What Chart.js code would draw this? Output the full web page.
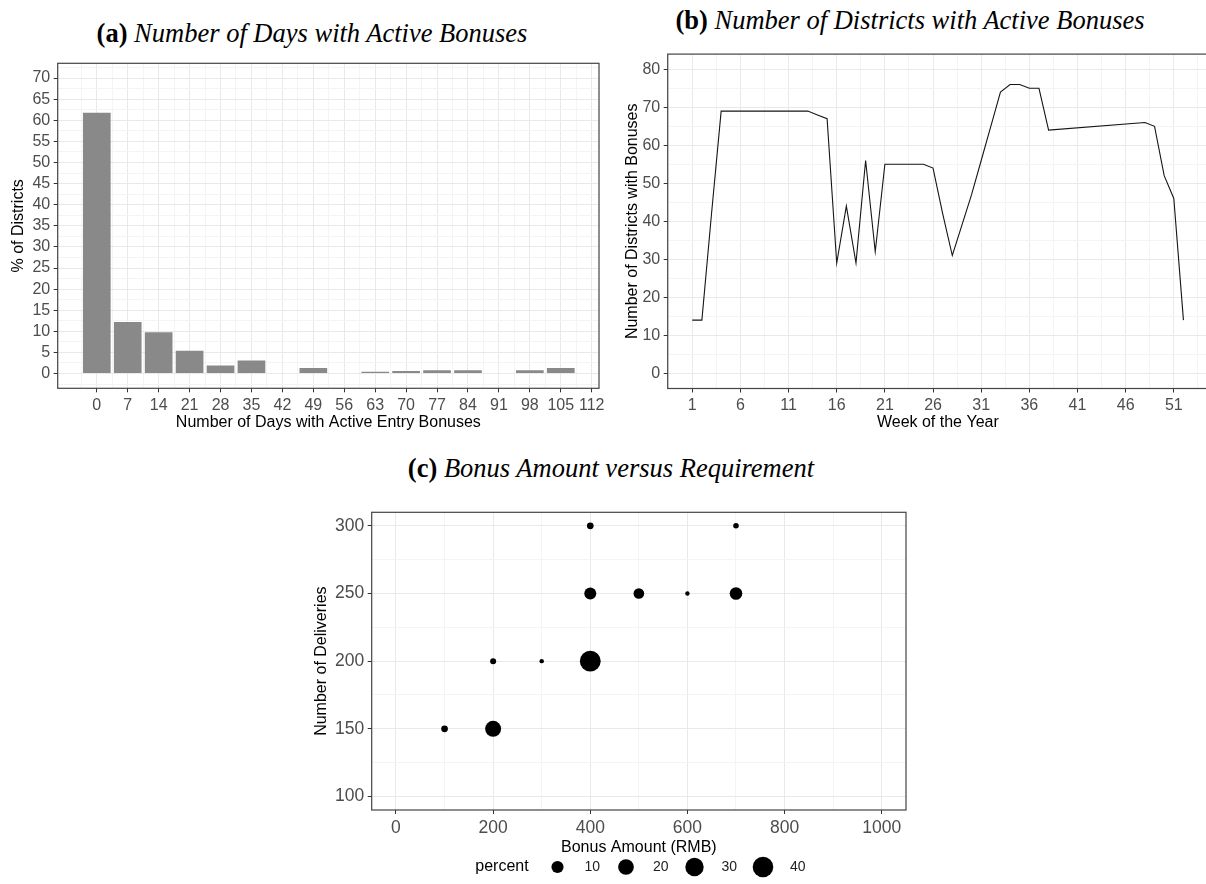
<!DOCTYPE html>
<html>
<head>
<meta charset="utf-8">
<script src="https://cdn.jsdelivr.net/npm/chart.js@4.4.1/dist/chart.umd.min.js"></script>
<style>
  html, body { margin: 0; padding: 0; background: #fff; width: 1206px; height: 884px; overflow: hidden; }
  canvas.panel { position: absolute; }
  .ttl { position: absolute; font-family: "Liberation Serif", serif; font-size: 26.5px; color: #000;
         white-space: nowrap; transform: translate(-50%, -50%); }
  .ttl b { font-weight: bold; font-style: normal; }
  .ttl i { font-style: italic; }
</style>
</head>
<body>
<div class="ttl" style="left:312px; top:33px;"><b>(a)</b> <i>Number of Days with Active Bonuses</i></div>
<div class="ttl" style="left:910px; top:20px;"><b>(b)</b> <i>Number of Districts with Active Bonuses</i></div>
<div class="ttl" style="left:611px; top:468px;"><b>(c)</b> <i>Bonus Amount versus Requirement</i></div>

<canvas id="chartDays" class="panel" width="610" height="400" style="left:0px; top:40px;"></canvas>
<canvas id="chartWeeks" class="panel" width="610" height="410" style="left:600px; top:30px;"></canvas>
<canvas id="chartBonus" class="panel" width="620" height="404" style="left:300px; top:480px;"></canvas>

<script>
// ---- (a) share of districts by number of days with an active entry bonus ----
const dayBins = [0, 7, 14, 21, 28, 35, 42, 49, 56, 63, 70, 77, 84, 91, 98, 105];
const pctDistricts = [61.8, 12.2, 9.8, 5.4, 1.9, 3.1, 0, 1.3, 0, 0.4, 0.6, 0.8, 0.8, 0, 0.8, 1.3];
const dayTicks = [0, 7, 14, 21, 28, 35, 42, 49, 56, 63, 70, 77, 84, 91, 98, 105, 112];
const pctTicks = [0, 5, 10, 15, 20, 25, 30, 35, 40, 45, 50, 55, 60, 65, 70];

// ---- (b) number of districts with bonuses, by week ----
const weeks = [1, 2, 3, 4, 5, 6, 7, 8, 9, 10, 11, 12, 13, 14, 15, 16, 17, 18, 19, 20,
               21, 22, 23, 24, 25, 26, 27, 28, 29, 30, 31, 32, 33, 34, 35, 36, 37, 38,
               48, 49, 50, 51, 52];
const districtsActive = [14, 14, 42, 69, 69, 69, 69, 69, 69, 69, 69, 69, 69, 68, 67, 29, 44, 29, 56, 32,
                         55, 55, 55, 55, 55, 54, 42, 31, 39, 47, 56, 65, 74, 76, 76, 75, 75, 64,
                         66, 65, 52, 46, 14];
const weekTicks = [1, 6, 11, 16, 21, 26, 31, 36, 41, 46, 51];
const districtTicks = [0, 10, 20, 30, 40, 50, 60, 70, 80];

// ---- (c) bonus amount vs delivery requirement, sized by share ----
const bonusRMB   = [100, 200, 200, 300, 400, 400, 400, 500, 600, 700, 700];
const deliveries = [150, 150, 200, 200, 200, 250, 300, 250, 250, 250, 300];
const sharePct   = [1.8, 21, 1.4, 1.0, 41, 9.5, 1.8, 6.8, 1.0, 11, 1.2];
const bonusTicks = [0, 200, 400, 600, 800, 1000];
const deliveryTicks = [100, 150, 200, 250, 300];
const legendPct = [10, 20, 30, 40];

// ---- shared styling ----
const FONT = "'Liberation Sans', Arial, sans-serif";
const GRID_MAJOR = '#E9E9E9';
const GRID_MINOR = '#F4F4F4';
const TICK_TEXT = '#4D4D4D';
const FRAME = '#444444';

function midpoints(majors, min, max) {
  const step = majors[1] - majors[0];
  const out = [];
  for (let v = majors[0] - step / 2; v <= majors[majors.length - 1] + step / 2 + 1e-9; v += step) {
    if (v >= min && v <= max) out.push(v);
  }
  return out;
}

function axis({ min, max, majors, title, fixed, horizontal, titlePad, tickSize = 16 }) {
  const minors = midpoints(majors, min, max);
  const isMajor = v => majors.some(m => Math.abs(m - v) < 1e-6);
  return {
    type: 'linear', min, max, offset: false,
    afterBuildTicks: ax => {
      ax.ticks = majors.concat(minors).sort((a, b) => a - b).map(v => ({ value: v }));
    },
    afterFit: ax => { if (horizontal) ax.height = fixed; else ax.width = fixed; },
    ticks: {
      autoSkip: false, maxRotation: 0, minRotation: 0, padding: 3.5,
      color: TICK_TEXT, font: { family: FONT, size: tickSize },
      callback: v => (isMajor(v) ? String(v) : '')
    },
    grid: {
      offset: false,
      color: c => (c.tick && isMajor(c.tick.value) ? GRID_MAJOR : GRID_MINOR),
      lineWidth: 1,
      drawTicks: true, tickLength: 4, tickWidth: 1,
      tickColor: c => (c.tick && isMajor(c.tick.value) ? '#333333' : 'rgba(0,0,0,0)')
    },
    border: { display: false },
    title: {
      display: true, text: title, color: '#000',
      font: { family: FONT, size: 16 }, padding: titlePad
    }
  };
}

// panel frame drawn on top, as a closed box round the plotting area
const panelFrame = {
  id: 'panelFrame',
  afterDraw(chart) {
    const { ctx, chartArea: a } = chart;
    ctx.save();
    ctx.strokeStyle = FRAME;
    ctx.lineWidth = 1.2;
    ctx.strokeRect(a.left, a.top, a.right - a.left, a.bottom - a.top);
    ctx.restore();
  }
};

const baseOptions = {
  responsive: false,
  animation: false,
  devicePixelRatio: 1,
  plugins: { legend: { display: false }, tooltip: { enabled: false } }
};

// ---- (a) ----
// the bar ruler also sees the half-step grid ticks, so the bar fraction is
// given relative to that half step (0.895 of a 7-day bin)
new Chart(document.getElementById('chartDays'), {
  type: 'bar',
  data: {
    datasets: [{
      data: dayBins.map((d, i) => ({ x: d, y: pctDistricts[i] })),
      backgroundColor: '#898989',
      borderWidth: 0,
      barPercentage: 1.79,
      categoryPercentage: 1.0
    }]
  },
  options: Object.assign({}, baseOptions, {
    layout: { padding: { left: 0, top: 23.3, right: 11, bottom: 0 } },
    scales: {
      x: axis({ min: -8.85, max: 113.65, majors: dayTicks, horizontal: true, fixed: 51.7,
                title: 'Number of Days with Active Entry Bonuses', titlePad: { top: 0, bottom: 8 } }),
      y: axis({ min: -3.5, max: 73.5, majors: pctTicks, horizontal: false, fixed: 57.7,
                title: '% of Districts', titlePad: { top: 8.5, bottom: 0 } })
    }
  }),
  plugins: [panelFrame]
});

// ---- (b) ----
new Chart(document.getElementById('chartWeeks'), {
  type: 'line',
  data: {
    datasets: [{
      data: weeks.map((w, i) => ({ x: w, y: districtsActive[i] })),
      borderColor: '#151515',
      borderWidth: 1.1,
      pointRadius: 0,
      tension: 0,
      fill: false
    }]
  },
  options: Object.assign({}, baseOptions, {
    layout: { padding: { left: 0, top: 24.1, right: 2, bottom: 0 } },
    scales: {
      x: axis({ min: -1.55, max: 54.55, majors: weekTicks, horizontal: true, fixed: 51.5,
                title: 'Week of the Year', titlePad: { top: 0, bottom: 8 } }),
      y: axis({ min: -4, max: 84, majors: districtTicks, horizontal: false, fixed: 67.7,
                title: 'Number of Districts with Bonuses', titlePad: { top: 22.5, bottom: 0 } })
    }
  }),
  plugins: [panelFrame]
});

// ---- (c) ----
const R_MIN = 2.2, R_MAX = 10.4;
const pMin = Math.min(...sharePct), pMax = Math.max(...sharePct);
function sizeFor(p) {
  const t = Math.max(0, (p - pMin) / (pMax - pMin));
  return R_MIN + (R_MAX - R_MIN) * Math.sqrt(t);
}

const sizeLegend = {
  id: 'sizeLegend',
  afterDraw(chart) {
    const { ctx } = chart;
    const y = 387;
    ctx.save();
    ctx.textBaseline = 'middle';
    ctx.fillStyle = '#000';
    ctx.font = `16px ${FONT}`;
    ctx.textAlign = 'center';
    ctx.fillText('percent', 202, y);
    legendPct.forEach((p, i) => {
      const cx = 257.5 + i * 68.5;
      ctx.beginPath();
      ctx.arc(cx, y, sizeFor(p), 0, Math.PI * 2);
      ctx.fillStyle = '#000';
      ctx.fill();
      ctx.font = `14px ${FONT}`;
      ctx.fillStyle = '#222';
      ctx.textAlign = 'left';
      ctx.fillText(String(p), cx + 27, y);
    });
    ctx.restore();
  }
};

new Chart(document.getElementById('chartBonus'), {
  type: 'scatter',
  data: {
    datasets: [{
      data: bonusRMB.map((b, i) => ({ x: b, y: deliveries[i] })),
      backgroundColor: '#000',
      borderWidth: 0,
      pointRadius: c => sizeFor(sharePct[c.dataIndex]),
      pointHoverRadius: c => sizeFor(sharePct[c.dataIndex])
    }]
  },
  options: Object.assign({}, baseOptions, {
    layout: { padding: { left: 0, top: 32.3, right: 14, bottom: 14 } },
    scales: {
      x: axis({ min: -50, max: 1050, majors: bonusTicks, horizontal: true, fixed: 60, tickSize: 17.5,
                title: 'Bonus Amount (RMB)', titlePad: { top: 0, bottom: 12.4 } }),
      y: axis({ min: 90, max: 310, majors: deliveryTicks, horizontal: false, fixed: 71.7, tickSize: 17.5,
                title: 'Number of Deliveries', titlePad: { top: 12, bottom: 0 } })
    }
  }),
  plugins: [panelFrame, sizeLegend]
});
</script>
</body>
</html>
